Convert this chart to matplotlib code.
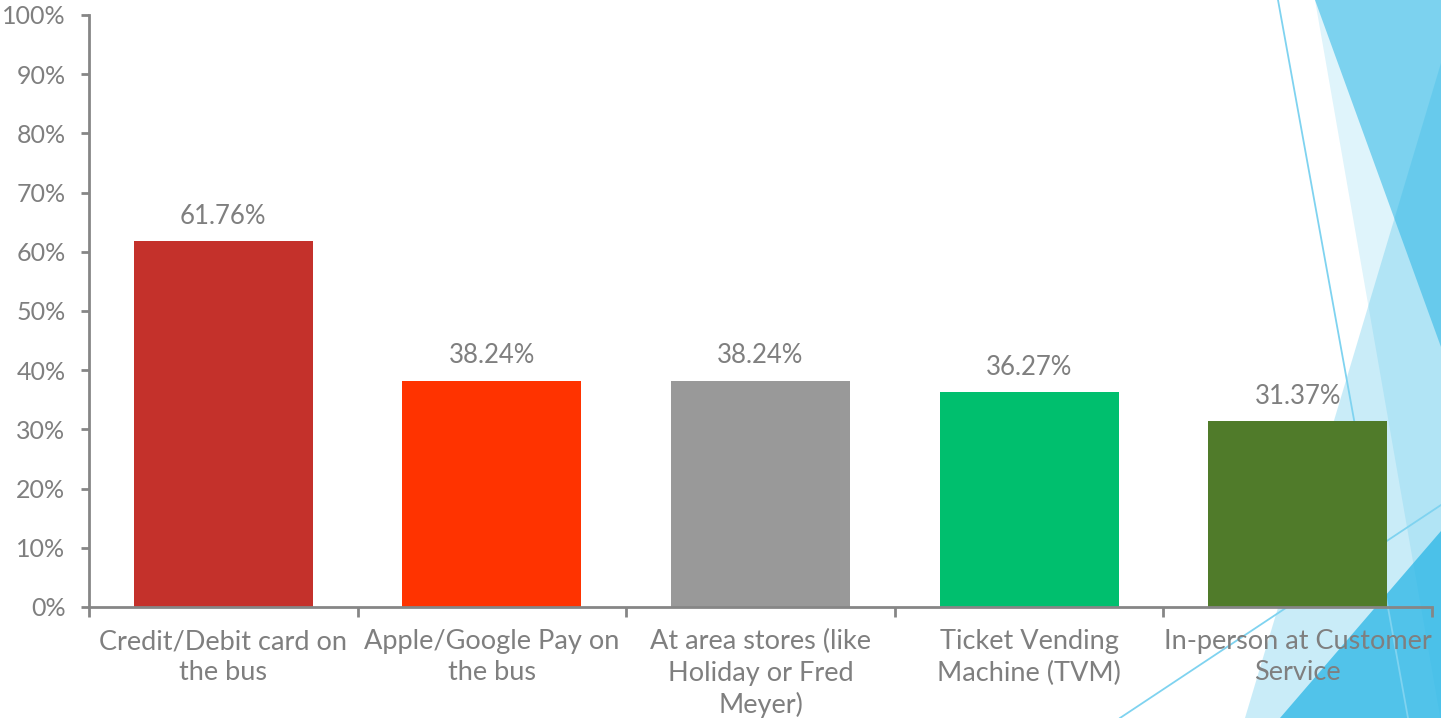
import matplotlib
matplotlib.use("Agg")
import matplotlib.pyplot as plt
from matplotlib.patches import Polygon
from matplotlib.ticker import FuncFormatter, FixedLocator

categories = ["Credit/Debit card on\nthe bus",
              "Apple/Google Pay on\nthe bus",
              "At area stores (like\nHoliday or Fred\nMeyer)",
              "Ticket Vending\nMachine (TVM)",
              "In-person at Customer\nService"]
values = [61.76, 38.24, 38.24, 36.27, 31.37]
value_labels = ["61.76%", "38.24%", "38.24%", "36.27%", "31.37%"]
bar_colors = ["#C4312B", "#FF3300", "#999999", "#00BF6E", "#507B2A"]
y_ticks = [0, 10, 20, 30, 40, 50, 60, 70, 80, 90, 100]

W, H = 1441, 718
fig = plt.figure(figsize=(W / 100, H / 100), dpi=100, facecolor="white")
plt.rcParams["font.family"] = ["Lato", "DejaVu Sans"]

# Decorative background (pixel coordinates of the slide corner)
bg = fig.add_axes([0, 0, 1, 1], zorder=0)
bg.set_xlim(0, W)
bg.set_ylim(H, 0)
bg.axis("off")
blue = "#29B6E6"
bg.add_patch(Polygon([(1315, 0), (1441, 0), (1441, 722)], closed=True, fc=blue, alpha=0.15, lw=0))
bg.add_patch(Polygon([(1315, 0), (1441, 0), (1441, 347)], closed=True, fc=blue, alpha=0.54, lw=0))
bg.add_patch(Polygon([(1441, 63), (1245, 718), (1441, 718)], closed=True, fc=blue, alpha=0.25, lw=0))
bg.add_patch(Polygon([(1441, 531), (1280, 718), (1441, 718)], closed=True, fc=blue, alpha=0.75, lw=0))
bg.plot([1278, 1408], [0, 718], color="#7FD3F0", lw=1.3)
bg.plot([1441, 1120], [505, 718], color="#7FD3F0", lw=1.3)

# Main chart
ax = fig.add_axes([89 / W, (H - 607) / H, (1432 - 89) / W, 592 / H], zorder=1)
ax.set_facecolor("none")
x = list(range(len(categories)))
bars = ax.bar(x, values, width=0.667, color=bar_colors, zorder=2)
ax.set_xlim(-0.5, len(categories) - 0.5)
ax.set_ylim(0, 100)

gray = "#868686"
txt = "#7F7F7F"
for s in ["top", "right"]:
    ax.spines[s].set_visible(False)
for s in ["left", "bottom"]:
    ax.spines[s].set_color(gray)
    ax.spines[s].set_linewidth(2)

ax.set_yticks(y_ticks)
ax.yaxis.set_major_formatter(FuncFormatter(lambda v, p: f"{int(v)}%"))
ax.tick_params(axis="y", direction="out", length=6, width=2, color=gray,
               labelcolor=txt, labelsize=18, pad=11)

ax.set_xticks(x)
ax.set_xticklabels(categories, fontsize=19.5, color=txt, linespacing=1.31)
ax.tick_params(axis="x", which="major", length=0, pad=16)
ax.xaxis.set_minor_locator(FixedLocator([i - 0.5 for i in range(len(categories) + 1)]))
ax.tick_params(axis="x", which="minor", direction="out", length=7, width=2, color=gray)

for b, lab in zip(bars, value_labels):
    ax.annotate(lab, (b.get_x() + b.get_width() / 2, b.get_height()),
                xytext=(0, 9), textcoords="offset points",
                ha="center", va="bottom", fontsize=18.5, color=txt)

fig.savefig("out.png", dpi=100, facecolor="white")
